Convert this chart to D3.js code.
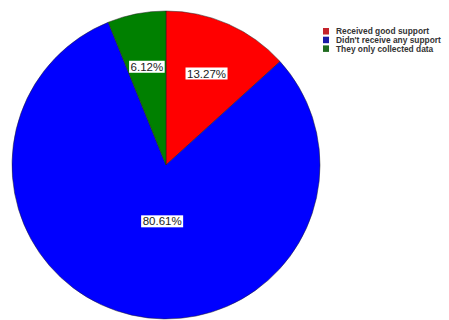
<!DOCTYPE html>
<html>
<head>
<meta charset="utf-8">
<script src="https://cdn.jsdelivr.net/npm/d3@7"></script>
<style>
  body { margin: 0; background: #fff; }
  text { font-family: "Liberation Sans", Arial, sans-serif; }
</style>
</head>
<body>
<svg id="chart" width="449" height="320"></svg>
<script>
var categories = ["Received good support", "Didn't receive any support", "They only collected data"];
var percents = [13.27, 80.61, 6.12];
var sliceColors = ["#ff0000", "#0000ff", "#008000"];
var legendColors = ["#c4232b", "#1a1aa6", "#1f6b1f"];

var width = 449, height = 320;
var cx = 166, cy = 165, radius = 154;

var svg = d3.select("#chart");

var color = d3.scaleOrdinal().domain(categories).range(sliceColors);
var legendColor = d3.scaleOrdinal().domain(categories).range(legendColors);

var data = categories.map(function(c, i) { return { name: c, value: percents[i] }; });

var pie = d3.pie().sort(null).value(function(d) { return d.value; });
var arc = d3.arc().innerRadius(0).outerRadius(radius);

var g = svg.append("g")
    .attr("transform", "translate(" + cx + "," + cy + ")");

var arcs = pie(data);

g.selectAll(".slice")
    .data(arcs)
  .enter().append("path")
    .attr("class", "slice")
    .attr("d", arc)
    .attr("fill", function(d) { return color(d.data.name); })
    .attr("stroke", "#222")
    .attr("stroke-width", 0.5);

// labels - big slice label sits closer to center
function labelArc(d) {
  var r = d.data.value > 50 ? radius * 0.375 : radius * 0.65;
  return d3.arc().innerRadius(r).outerRadius(r);
}

var labels = g.selectAll(".lbl")
    .data(arcs)
  .enter().append("g")
    .attr("class", "lbl")
    .attr("transform", function(d) {
      var c = labelArc(d).centroid(d);
      // the big one is centred under the middle in the original
      if (d.data.value > 50) c[0] = c[0] * 0.3;
      return "translate(" + c[0] + "," + c[1] + ")";
    });

labels.append("text")
    .attr("text-anchor", "middle")
    .attr("dy", "0.35em")
    .style("font-size", "11.5px")
    .style("fill", "#222")
    .text(function(d) { return d.data.value.toFixed(2) + "%"; })
    .each(function() {
      var b = this.getBBox();
      d3.select(this.parentNode).insert("rect", "text")
          .attr("x", b.x - 1.5)
          .attr("y", b.y)
          .attr("width", b.width + 3)
          .attr("height", b.height)
          .attr("fill", "#fff");
    });

// legend
var legend = svg.append("g")
    .attr("transform", "translate(323,28)");

var item = legend.selectAll(".item")
    .data(categories)
  .enter().append("g")
    .attr("class", "item")
    .attr("transform", function(d, i) { return "translate(0," + (i * 8.7) + ")"; });

item.append("rect")
    .attr("width", 6)
    .attr("height", 6.5)
    .attr("fill", function(d) { return legendColor(d); });

item.append("text")
    .attr("x", 13)
    .attr("y", 3.5)
    .attr("dy", "0.35em")
    .style("font-size", "8.4px")
    .style("font-weight", "bold")
    .style("fill", "#333")
    .text(function(d) { return d; });
</script>
</body>
</html>
